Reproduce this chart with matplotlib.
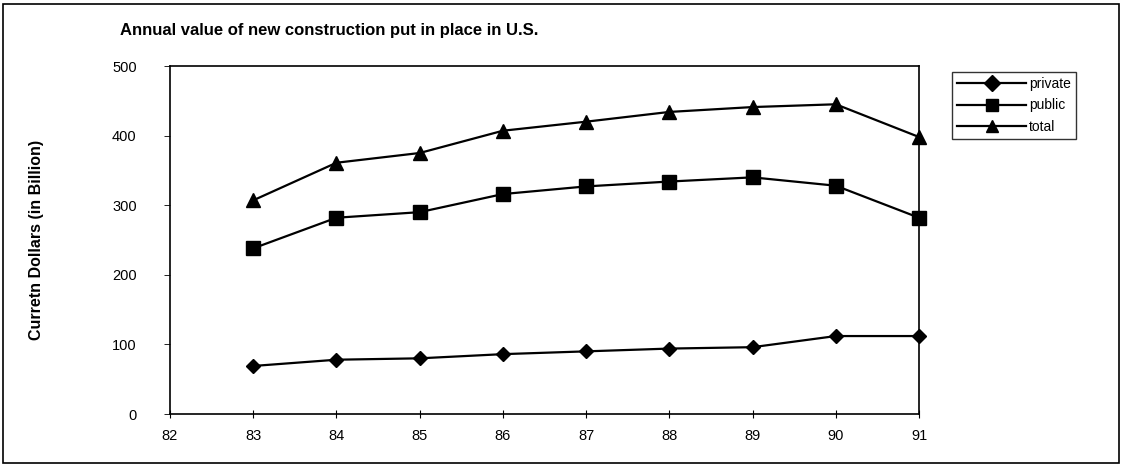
import matplotlib
matplotlib.use("Agg")
import matplotlib.pyplot as plt
from matplotlib.patches import Rectangle

years = [83, 84, 85, 86, 87, 88, 89, 90, 91]
private = [69, 78, 80, 86, 90, 94, 96, 112, 112]
public = [238, 282, 290, 316, 327, 334, 340, 328, 282]
total = [307, 361, 375, 407, 420, 434, 441, 445, 398]
x_ticks = [82, 83, 84, 85, 86, 87, 88, 89, 90, 91]
y_ticks = [0, 100, 200, 300, 400, 500]

plt.rcParams['font.family'] = ['Liberation Sans', 'DejaVu Sans']

fig = plt.figure(figsize=(11.22, 4.67), dpi=100)
ax = fig.add_axes([170/1122, 1-414/467, (919-170)/1122, (414-66)/467])

ax.plot(years, private, color='black', lw=1.6, marker='D', ms=7, label='private', clip_on=False)
ax.plot(years, public, color='black', lw=1.6, marker='s', ms=10, label='public', clip_on=False)
ax.plot(years, total, color='black', lw=1.6, marker='^', ms=10, label='total', clip_on=False)

ax.set_xlim(82, 91)
ax.set_ylim(0, 500)
ax.set_xticks(x_ticks)
ax.set_xticklabels([str(v) for v in x_ticks])
ax.set_yticks(y_ticks)
ax.set_yticklabels([str(v) for v in y_ticks])
ax.tick_params(axis='x', direction='inout', length=6, width=0.8, labelsize=10.5, pad=8)
ax.tick_params(axis='y', direction='out', length=4, width=0.6, labelsize=10.5, pad=20)
for s in ax.spines.values():
    s.set_linewidth(1.2)
    s.set_color('black')

ax.set_ylabel('Curretn Dollars (in Billion)', fontsize=11.5, fontweight='bold')
ax.yaxis.set_label_coords(-0.168, 0.5)

fig.text(120/1122, 1-30/467, 'Annual value of new construction put in place in U.S.',
         fontsize=12, fontweight='bold', ha='left', va='center')

leg = fig.legend(loc='upper left', bbox_to_anchor=(952/1122, 1-72/467), frameon=True,
                 fontsize=10, handlelength=5.0, borderpad=0.35, labelspacing=0.55,
                 handletextpad=0.2, fancybox=False, borderaxespad=0)
leg.get_frame().set_edgecolor('black')
leg.get_frame().set_linewidth(1.0)
for h in leg.legend_handles:
    h.set_markersize(8)

fig.patches.append(Rectangle((3/1122, 4/467), 1116/1122, 459/467, transform=fig.transFigure,
                             fill=False, edgecolor='black', lw=1.2))

fig.savefig('out.png', dpi=100)
